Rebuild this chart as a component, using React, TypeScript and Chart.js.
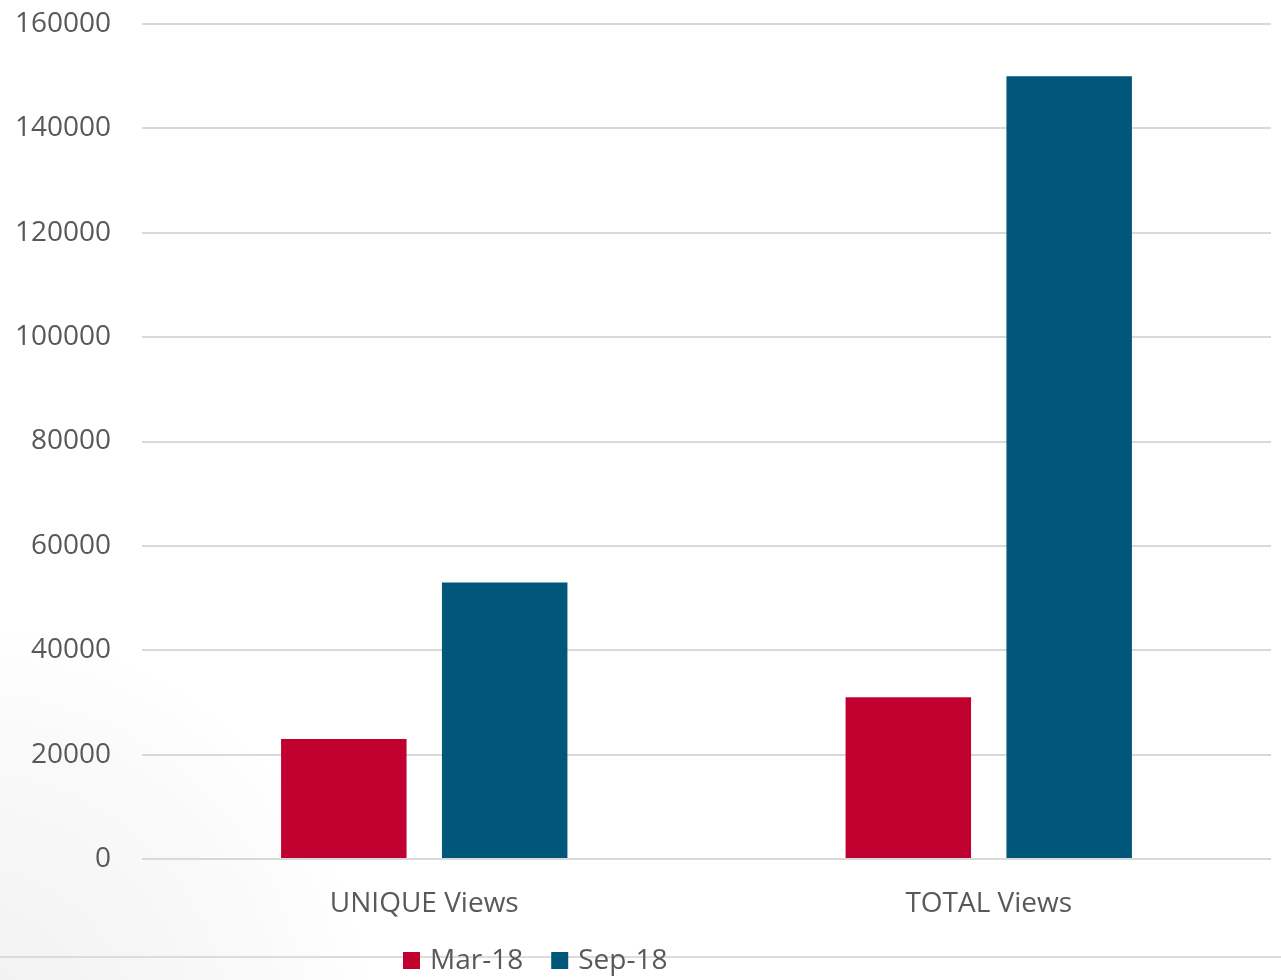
import React, { useEffect, useRef } from "react";
import { Chart, registerables } from "chart.js";

Chart.register(...registerables);

const categories = ["UNIQUE Views", "TOTAL Views"];
const mar18Values = [23000, 31000];
const sep18Values = [53000, 150000];
const seriesNames = ["Mar-18", "Sep-18"];
const seriesColors = ["#C0002E", "#00577A"];

const FONT = "'Open Sans', 'Liberation Sans', sans-serif";
const TEXT = "#595959";
const GRID = "#D9D9D9";

// Slide backdrop: faint corner shading and the divider line under the chart.
const backdrop = {
  id: "backdrop",
  beforeDraw(chart: Chart) {
    const { ctx, width, height } = chart;
    ctx.save();
    const g = ctx.createRadialGradient(-40, height + 60, 0, -40, height + 60, 420);
    g.addColorStop(0, "rgba(0,0,0,0.06)");
    g.addColorStop(0.75, "rgba(0,0,0,0.02)");
    g.addColorStop(1, "rgba(0,0,0,0)");
    ctx.fillStyle = g;
    ctx.fillRect(0, 0, width, height);
    ctx.strokeStyle = "#DCDCDC";
    ctx.lineWidth = 2;
    ctx.beginPath();
    ctx.moveTo(0, 957);
    ctx.lineTo(width, 957);
    ctx.stroke();
    ctx.restore();
  },
};

// Legend row below the category labels, built from the datasets.
const legendRow = {
  id: "legendRow",
  afterDraw(chart: Chart) {
    const { ctx } = chart;
    ctx.save();
    ctx.font = `28px ${FONT}`;
    ctx.textBaseline = "middle";
    ctx.textAlign = "left";
    let x = 403;
    chart.data.datasets.forEach((ds: any) => {
      ctx.fillStyle = ds.backgroundColor;
      ctx.fillRect(x, 952, 17, 17);
      ctx.fillStyle = TEXT;
      ctx.fillText(ds.label, x + 27, 961);
      x += 27 + ctx.measureText(ds.label).width + 28;
    });
    ctx.restore();
  },
};

export default function App() {
  const ref = useRef<HTMLCanvasElement | null>(null);

  useEffect(() => {
    if (!ref.current) return;
    const chart = new Chart(ref.current, {
      type: "bar",
      data: {
        labels: categories,
        datasets: [
          {
            label: seriesNames[0],
            data: mar18Values,
            backgroundColor: seriesColors[0],
            categoryPercentage: 0.57,
            barPercentage: 0.78,
          },
          {
            label: seriesNames[1],
            data: sep18Values,
            backgroundColor: seriesColors[1],
            categoryPercentage: 0.57,
            barPercentage: 0.78,
          },
        ],
      },
      options: {
        animation: false,
        responsive: false,
        layout: { padding: { top: 24, right: 10, bottom: 0, left: 0 } },
        plugins: {
          tooltip: { enabled: false },
          legend: { display: false },
        },
        scales: {
          x: {
            afterFit(scale: any) {
              scale.height = 980 - 859;
            },
            grid: { display: false, drawTicks: false },
            border: { display: false },
            ticks: {
              color: TEXT,
              padding: 28,
              font: { family: FONT, size: 28 },
            },
          },
          y: {
            min: 0,
            max: 160000,
            afterFit(scale: any) {
              scale.width = 142;
              scale.paddingTop = 0;
              scale.paddingBottom = 0;
            },
            grid: { color: GRID, lineWidth: 2, drawTicks: false },
            border: { display: false },
            ticks: {
              stepSize: 20000,
              padding: 31,
              color: TEXT,
              font: { family: FONT, size: 28 },
              callback: (v: any) => String(v),
            },
          },
        },
      },
      plugins: [backdrop, legendRow],
    });
    return () => chart.destroy();
  }, []);

  return (
    <div style={{ position: "fixed", left: 0, top: 0, width: 1281, height: 980, background: "#fff" }}>
      <canvas ref={ref} width={1281} height={980} style={{ display: "block" }} />
    </div>
  );
}
